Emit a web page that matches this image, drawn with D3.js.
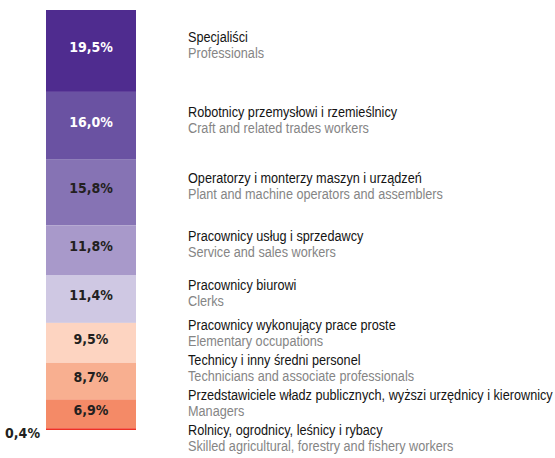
<!DOCTYPE html>
<html>
<head>
<meta charset="utf-8">
<script src="https://cdn.jsdelivr.net/npm/d3@7"></script>
<style>
    body { margin: 0; background: #fff; }
    svg { display: block; }
</style>
</head>
<body>
<div id="chart"></div>
<script>
const labelsPl = [
    'Specjaliści',
    'Robotnicy przemysłowi i rzemieślnicy',
    'Operatorzy i monterzy maszyn i urządzeń',
    'Pracownicy usług i sprzedawcy',
    'Pracownicy biurowi',
    'Pracownicy wykonujący prace proste',
    'Technicy i inny średni personel',
    'Przedstawiciele władz publicznych, wyższi urzędnicy i kierownicy',
    'Rolnicy, ogrodnicy, leśnicy i rybacy'
];
const labelsEn = [
    'Professionals',
    'Craft and related trades workers',
    'Plant and machine operators and assemblers',
    'Service and sales workers',
    'Clerks',
    'Elementary occupations',
    'Technicians and associate professionals',
    'Managers',
    'Skilled agricultural, forestry and fishery workers'
];
const shares = [19.5, 16.0, 15.8, 11.8, 11.4, 9.5, 8.7, 6.9, 0.4];
const colors = ['#4f2c8f', '#6a52a2', '#8673b4', '#a899ca', '#cfc8e3', '#fdd4c1', '#f8af90', '#f48a67', '#ee3124'];

const W = 555, H = 458;
const fmt = v => v.toFixed(1).replace('.', ',') + '%';

const svg = d3.select('#chart')
    .append('svg')
    .attr('width', W)
    .attr('height', H);

const y = d3.scaleLinear()
    .domain([0, d3.sum(shares)])
    .range([10, 430]);

const x = d3.scaleBand()
    .domain(['bar'])
    .range([46, 136])
    .padding(0);

// stacked offsets
let acc = 0;
const segs = shares.map((v, i) => {
    const s = { i: i, v: v, y0: acc, y1: acc + v };
    acc += v;
    return s;
});

svg.append('g')
    .selectAll('rect')
    .data(segs)
    .enter()
    .append('rect')
    .attr('x', x('bar'))
    .attr('width', x.bandwidth())
    .attr('y', d => y(d.y0))
    .attr('height', d => y(d.y1) - y(d.y0))
    .attr('fill', d => colors[d.i]);

// values inside bar (the tiny last one goes to the left)
svg.append('g')
    .selectAll('text')
    .data(segs)
    .enter()
    .append('text')
    .attr('x', d => d.v < 2 ? x('bar') - 6 : x('bar') + x.bandwidth() / 2)
    .attr('y', d => d.v < 2 ? y(d.y1) + 8 : (y(d.y0) + y(d.y1)) / 2 + 1)
    .attr('text-anchor', d => d.v < 2 ? 'end' : 'middle')
    .style('font-family', '"DejaVu Sans Condensed", "DejaVu Sans", sans-serif')
    .style('font-weight', 'bold')
    .style('font-size', '14px')
    .style('fill', d => d.i < 2 ? '#ffffff' : '#231f20')
    .text(d => fmt(d.v));

// label placement: wanted centre near segment middle, then push apart
const gap = 35;
let blocks = segs.map(d => ({ pos: (y(d.y0) + y(d.y1)) / 2 - 5, n: 1, items: [d.i] }));
let merged = true;
while (merged) {
    merged = false;
    const out = [];
    for (const b of blocks) {
        const last = out[out.length - 1];
        if (last) {
            const lastEnd = last.pos + (last.n - 1) * gap / 2;
            const bStart = b.pos - (b.n - 1) * gap / 2;
            if (bStart - lastEnd < gap) {
                const n = last.n + b.n;
                last.pos = (last.pos * last.n + b.pos * b.n) / n;
                last.n = n;
                last.items = last.items.concat(b.items);
                merged = true;
                continue;
            }
        }
        out.push({ pos: b.pos, n: b.n, items: b.items.slice() });
    }
    blocks = out;
}
const labelY = [];
blocks.forEach(b => {
    b.items.forEach((idx, k) => {
        labelY[idx] = b.pos + (k - (b.n - 1) / 2) * gap;
    });
});

const lab = svg.append('g')
    .selectAll('g')
    .data(segs)
    .enter()
    .append('g')
    .attr('transform', d => `translate(188,${labelY[d.i]})`)
    .style('font-family', '"Liberation Sans", Arial, sans-serif')
    .style('font-size', '15px');

const inner = lab.append('g').attr('class', 'inner');

inner.append('text')
    .attr('y', -4)
    .style('fill', '#141414')
    .text(d => labelsPl[d.i]);

inner.append('text')
    .attr('y', 12)
    .style('fill', '#858585')
    .text(d => labelsEn[d.i]);

// the original uses a condensed face: squeeze so the longest line fits 365px
const longest = d3.max(inner.selectAll('text').nodes(), n => n.getComputedTextLength());
const squeeze = 365 / longest;
inner.attr('transform', `scale(${squeeze},1)`);
</script>
</body>
</html>
